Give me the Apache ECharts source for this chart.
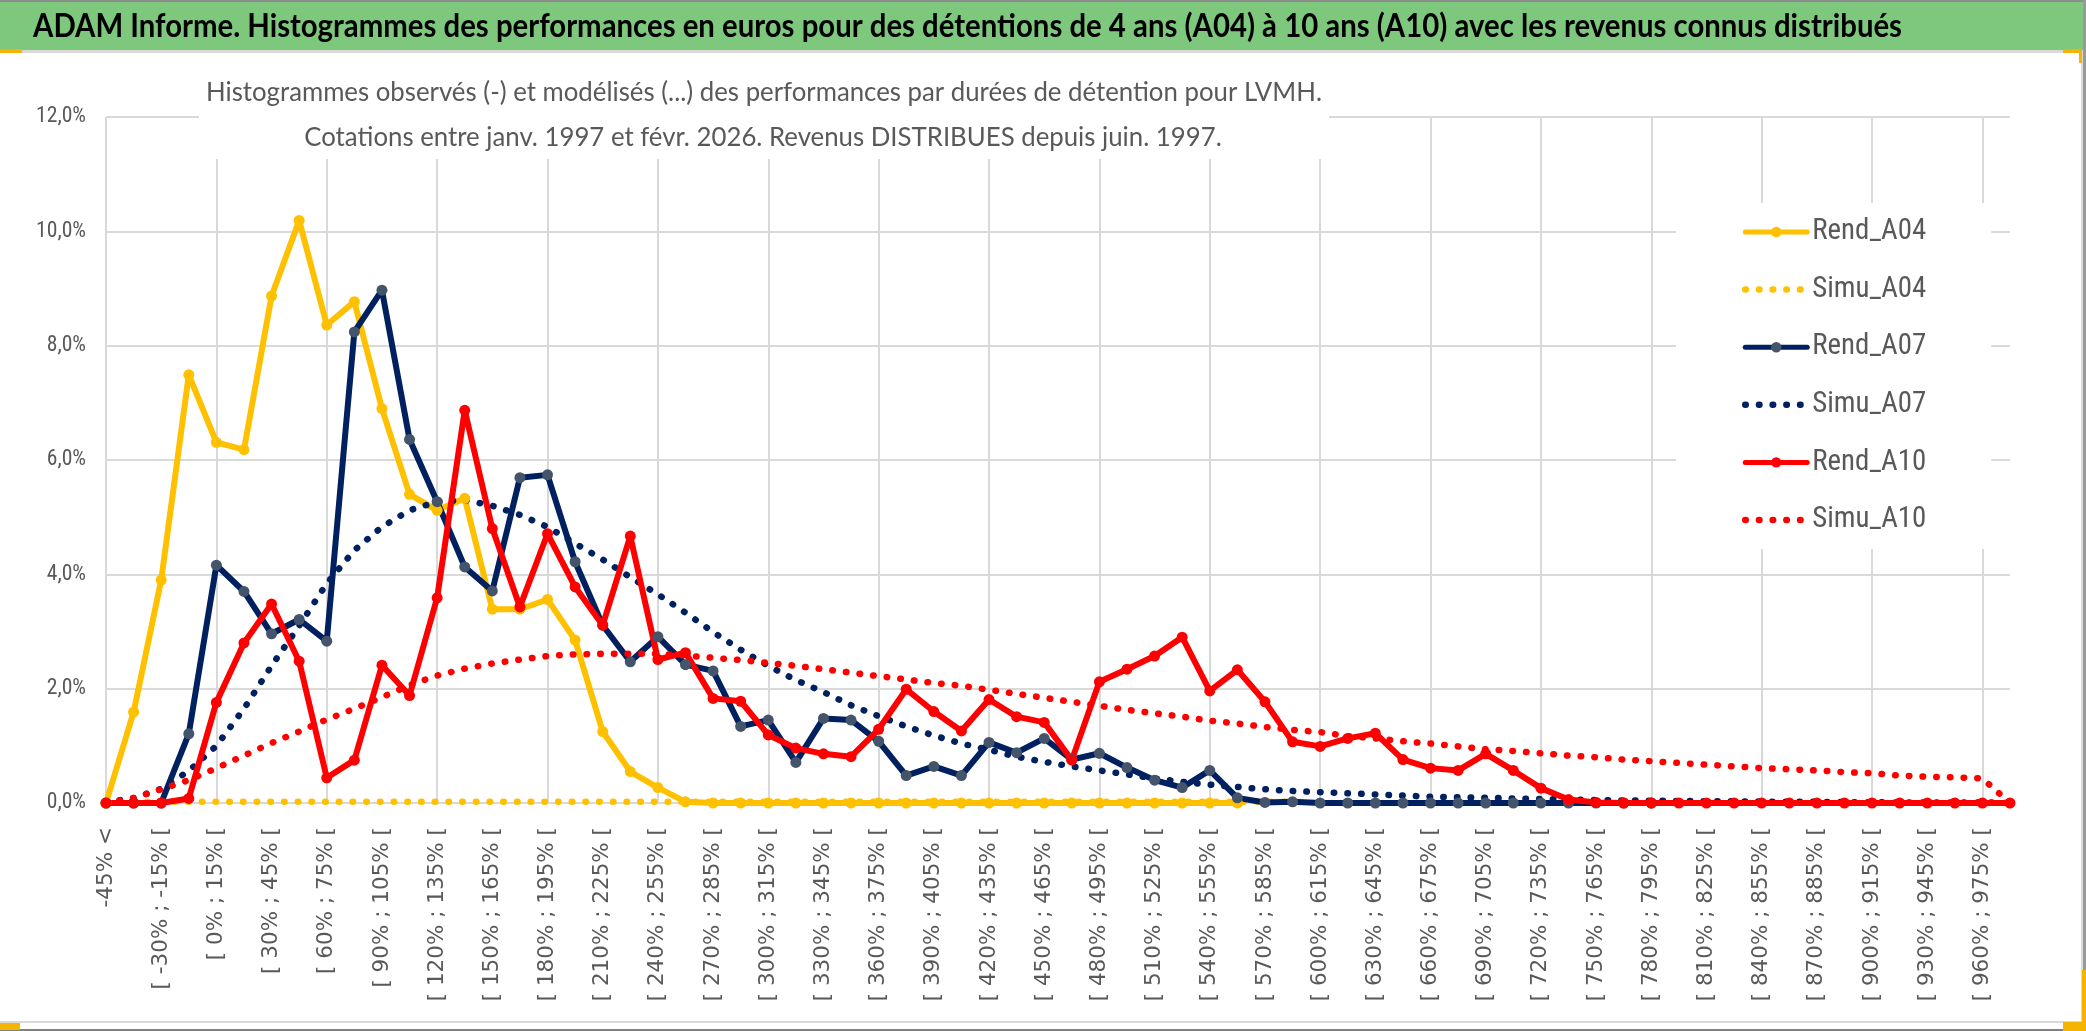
<!DOCTYPE html>
<html>
<head>
<meta charset="utf-8">
<script src="https://cdn.jsdelivr.net/npm/echarts@6/dist/echarts.min.js"></script>
<style>
html,body{margin:0;padding:0;background:#fff;}
#chart{width:2086px;height:1031px;}
</style>
</head>
<body>
<div id="chart"></div>
<script>
// ---------- DATA ----------
const titleText = "ADAM Informe. Histogrammes des performances en euros pour des détentions de 4 ans (A04) à 10 ans (A10) avec les revenus connus distribués";
const subtitleLine1 = "Histogrammes observés (-) et modélisés (...) des performances par durées de détention pour LVMH.";
const subtitleLine2 = "Cotations entre janv. 1997 et févr. 2026. Revenus DISTRIBUES depuis juin. 1997.";

const categories = [
"-45% <",
"[ -45% ; -30% [", "[ -30% ; -15% [", "[ -15% ; 0% [", "[ 0% ; 15% [", "[ 15% ; 30% [", "[ 30% ; 45% [", "[ 45% ; 60% [", "[ 60% ; 75% [", "[ 75% ; 90% [", "[ 90% ; 105% [",
"[ 105% ; 120% [", "[ 120% ; 135% [", "[ 135% ; 150% [", "[ 150% ; 165% [", "[ 165% ; 180% [", "[ 180% ; 195% [", "[ 195% ; 210% [", "[ 210% ; 225% [", "[ 225% ; 240% [", "[ 240% ; 255% [",
"[ 255% ; 270% [", "[ 270% ; 285% [", "[ 285% ; 300% [", "[ 300% ; 315% [", "[ 315% ; 330% [", "[ 330% ; 345% [", "[ 345% ; 360% [", "[ 360% ; 375% [", "[ 375% ; 390% [", "[ 390% ; 405% [",
"[ 405% ; 420% [", "[ 420% ; 435% [", "[ 435% ; 450% [", "[ 450% ; 465% [", "[ 465% ; 480% [", "[ 480% ; 495% [", "[ 495% ; 510% [", "[ 510% ; 525% [", "[ 525% ; 540% [", "[ 540% ; 555% [",
"[ 555% ; 570% [", "[ 570% ; 585% [", "[ 585% ; 600% [", "[ 600% ; 615% [", "[ 615% ; 630% [", "[ 630% ; 645% [", "[ 645% ; 660% [", "[ 660% ; 675% [", "[ 675% ; 690% [", "[ 690% ; 705% [",
"[ 705% ; 720% [", "[ 720% ; 735% [", "[ 735% ; 750% [", "[ 750% ; 765% [", "[ 765% ; 780% [", "[ 780% ; 795% [", "[ 795% ; 810% [", "[ 810% ; 825% [", "[ 825% ; 840% [", "[ 840% ; 855% [",
"[ 855% ; 870% [", "[ 870% ; 885% [", "[ 885% ; 900% [", "[ 900% ; 915% [", "[ 915% ; 930% [", "[ 930% ; 945% [", "[ 945% ; 960% [", "[ 960% ; 975% [",
"> 975%"
];

const yTicks = [0, 2, 4, 6, 8, 10, 12];

// values in %
const rendA04 = [
0, 1.59, 3.90, 7.49, 6.31, 6.18, 8.87, 10.19, 8.36, 8.77,
6.90, 5.40, 5.12, 5.33, 3.39, 3.39, 3.56, 2.85, 1.25, 0.55,
0.27, 0.02, 0, 0, 0, 0, 0, 0, 0, 0,
0, 0, 0, 0, 0, 0, 0, 0, 0, 0,
0, 0, null, null, null, null, null, null, null, null,
null, null, null, null, null, null, null, null, null, null,
null, null, null, null, null, null, null, null, null, null
];
const simuA04 = [
0.02, 0.02, 0.02, 0.02, 0.02, 0.02, 0.02, 0.02, 0.02, 0.02,
0.02, 0.02, 0.02, 0.02, 0.02, 0.02, 0.02, 0.02, 0.02, 0.02,
0.02, 0.02, 0.02, 0.02, 0.02, 0.02, 0.02, 0.02, 0.02, 0.02,
0.02, 0.02, 0.02, 0.02, 0.02, 0.02, 0.02, 0.02, 0.02, 0.02,
0.02, 0.02, 0.02, 0.02, null, null, null, null, null, null,
null, null, null, null, null, null, null, null, null, null,
null, null, null, null, null, null, null, null, null, null
];
const rendA07 = [
0, 0, 0, 1.21, 4.16, 3.70, 2.96, 3.21, 2.83, 8.24,
8.97, 6.36, 5.27, 4.13, 3.71, 5.69, 5.74, 4.22, 3.11, 2.47,
2.91, 2.42, 2.31, 1.34, 1.45, 0.71, 1.48, 1.45, 1.08, 0.48,
0.64, 0.48, 1.06, 0.88, 1.13, 0.76, 0.87, 0.62, 0.40, 0.27,
0.57, 0.09, 0.01, 0.02, 0, 0, 0, 0, 0, 0,
0, 0, 0, 0, 0, 0, 0, null, null, null,
null, null, null, null, null, null, null, null, null, null
];
const simuA07 = [
0.02, 0.08, 0.25, 0.56, 1.00, 1.65, 2.40, 3.10, 3.84, 4.42,
4.83, 5.12, 5.27, 5.30, 5.20, 5.04, 4.83, 4.54, 4.26, 3.95,
3.65, 3.33, 2.99, 2.68, 2.40, 2.15, 1.94, 1.71, 1.52, 1.34,
1.18, 1.04, 0.93, 0.81, 0.72, 0.64, 0.57, 0.50, 0.43, 0.37,
0.32, 0.28, 0.24, 0.21, 0.19, 0.17, 0.15, 0.13, 0.11, 0.10,
0.09, 0.08, 0.07, 0.06, 0.05, 0.045, 0.04, 0.035, 0.03, 0.03,
0.025, 0.02, 0.02, 0.015, 0.015, 0.01, 0.01, 0.01, 0.01, 0
];
const rendA10 = [
0, 0, 0, 0.08, 1.76, 2.80, 3.48, 2.48, 0.44, 0.75,
2.41, 1.88, 3.59, 6.87, 4.80, 3.43, 4.71, 3.78, 3.11, 4.67,
2.51, 2.63, 1.83, 1.78, 1.19, 0.96, 0.86, 0.81, 1.29, 1.99,
1.60, 1.26, 1.81, 1.51, 1.41, 0.75, 2.12, 2.34, 2.57, 2.90,
1.96, 2.33, 1.77, 1.07, 0.99, 1.13, 1.22, 0.76, 0.61, 0.57,
0.86, 0.57, 0.26, 0.06, 0.01, 0, 0, 0, 0, 0,
0, 0, 0, 0, 0, 0, 0, 0, 0, 0
];
const simuA10 = [
0, 0.09, 0.24, 0.40, 0.61, 0.83, 1.05, 1.25, 1.46, 1.65,
1.85, 2.06, 2.23, 2.35, 2.44, 2.51, 2.57, 2.60, 2.61, 2.61,
2.61, 2.58, 2.54, 2.50, 2.45, 2.40, 2.34, 2.28, 2.22, 2.16,
2.10, 2.05, 1.98, 1.91, 1.84, 1.77, 1.70, 1.63, 1.57, 1.51,
1.44, 1.39, 1.33, 1.28, 1.24, 1.17, 1.13, 1.08, 1.04, 0.99,
0.94, 0.91, 0.87, 0.83, 0.80, 0.76, 0.73, 0.70, 0.67, 0.64,
0.61, 0.59, 0.57, 0.54, 0.52, 0.48, 0.46, 0.45, 0.43, 0
];

// ---------- STYLE ----------
const GRAY = '#595959';
const GRID = '#d9d9d9';
const C_A04 = '#ffc000', C_A07 = '#002060', M_A07 = '#44546a', C_A10 = '#ff0000';

const mctx = document.createElement('canvas').getContext('2d');
function textWidth(text, weight, size, family) {
  mctx.font = weight + ' ' + size + 'px ' + family;
  return mctx.measureText(text).width;
}
function hasFont(name) {
  const s = 'abcdefghijklmnopqrstuvwxyzABCDEFGHIJ0123456789%_';
  for (const fb of ['monospace', 'serif']) {
    if (textWidth(s, 'normal', 72, fb) !== textWidth(s, 'normal', 72, "'" + name + "', " + fb)) return true;
  }
  return false;
}
const narrowCandidates = ['Liberation Sans Narrow', 'Roboto Condensed', 'Noto Sans Condensed', 'Open Sans Condensed', 'Arial Narrow'];
let NARROW = null;
for (const f of narrowCandidates) { if (hasFont(f)) { NARROW = "'" + f + "'"; break; } }
if (!NARROW) NARROW = "Roboto";
const NARROW_STACK = NARROW + ", Roboto, 'Liberation Sans', sans-serif";

// Title / subtitle: Lato scaled horizontally to match condensed look
const TFONT = "Lato, 'Open Sans', sans-serif";
const titleSize = 31.5;
const titleScale = 1869 / textWidth(titleText, 'bold', titleSize, TFONT);
const subSize = 27.5;
const subScale = 1116 / textWidth(subtitleLine1, 'normal', subSize, TFONT);

const legendSize = +(29 * 114 / textWidth('Rend_A04', 'normal', 29, NARROW_STACK)).toFixed(2);
const yLabSize = +(20 * 50 / textWidth('12,0%', 'normal', 20, NARROW_STACK)).toFixed(2);

const chart = echarts.init(document.getElementById('chart'), null, {renderer: 'canvas'});

function rend(name, data, lineColor, markColor) {
  return {
    name, type: 'line', data,
    symbol: 'circle', symbolSize: 11, showSymbol: true,
    connectNulls: false,
    lineStyle: {color: lineColor, width: 6, cap: 'round', join: 'round'},
    itemStyle: {color: markColor, borderWidth: 0},
    emphasis: {disabled: true},
    animation: false
  };
}
function simu(name, data, color) {
  return {
    name, type: 'line', data,
    symbol: 'none', showSymbol: false,
    lineStyle: {color, width: 6.5, type: [0.5, 13.2], cap: 'round', join: 'round'},
    itemStyle: {color},
    emphasis: {disabled: true},
    animation: false
  };
}

const legendNames = ['Rend_A04', 'Simu_A04', 'Rend_A07', 'Simu_A07', 'Rend_A10', 'Simu_A10'];

const option = {
  backgroundColor: '#ffffff',
  animation: false,
  grid: {left: 106, right: 76, top: 117, bottom: 228, containLabel: false},
  legend: {
    orient: 'vertical',
    left: 1676, top: 203,
    padding: [12, 65, 12, 66],
    backgroundColor: '#ffffff',
    itemWidth: 62, itemHeight: 13, itemGap: 23.6,
    textStyle: {fontFamily: NARROW_STACK, fontSize: legendSize, color: GRAY, lineHeight: 34, padding: [0, 0, 0, 0]},
    data: legendNames.map(n => n.startsWith('Rend')
      ? {name: n, lineStyle: {width: 5}}
      : {name: n, lineStyle: {width: 6.5}, itemStyle: {opacity: 0}}),
    selectedMode: false
  },
  xAxis: {
    type: 'category', data: categories, boundaryGap: false,
    axisLine: {show: true, lineStyle: {color: GRID, width: 2}},
    axisTick: {show: false},
    axisLabel: {
      interval: 1, rotate: 90, margin: 24,
      fontFamily: "'DejaVu Sans', Verdana, sans-serif", fontSize: 21.5, color: GRAY
    },
    splitLine: {show: true, interval: 3, lineStyle: {color: GRID, width: 2}}
  },
  yAxis: {
    type: 'value', min: yTicks[0], max: yTicks[yTicks.length - 1], interval: 2,
    axisLine: {show: false}, axisTick: {show: false},
    axisLabel: {
      margin: 20, fontFamily: NARROW_STACK, fontSize: yLabSize, color: GRAY,
      formatter: v => v.toFixed(1).replace('.', ',') + '%'
    },
    splitLine: {show: true, lineStyle: {color: GRID, width: 2}}
  },
  series: [
    rend('Rend_A04', rendA04, C_A04, C_A04),
    simu('Simu_A04', simuA04, C_A04),
    rend('Rend_A07', rendA07, C_A07, M_A07),
    simu('Simu_A07', simuA07, C_A07),
    rend('Rend_A10', rendA10, C_A10, C_A10),
    simu('Simu_A10', simuA10, C_A10)
  ],
  graphic: [
    // title bar
    {type: 'rect', left: 0, top: 0, shape: {width: 2086, height: 50}, style: {fill: '#7ec87e'}, z: 100},
    {type: 'rect', left: 0, top: 50, shape: {width: 2083, height: 3}, style: {fill: '#d9d9d9'}, z: 100},
    {type: 'text', x: 33, y: 27, scaleX: titleScale, z: 101,
      style: {text: titleText, font: 'bold ' + titleSize + 'px ' + TFONT, fill: '#000000', verticalAlign: 'middle', align: 'left'}},
    // subtitle box
    {type: 'rect', left: 199, top: 62, shape: {width: 1130, height: 97}, style: {fill: '#ffffff'}, z: 100},
    {type: 'text', x: 764, y: 92, scaleX: subScale, z: 101,
      style: {text: subtitleLine1, font: subSize + 'px ' + TFONT, fill: GRAY, align: 'center', verticalAlign: 'middle'}},
    {type: 'text', x: 763, y: 137, scaleX: subScale, z: 101,
      style: {text: subtitleLine2, font: subSize + 'px ' + TFONT, fill: GRAY, align: 'center', verticalAlign: 'middle'}},
    // frame
    {type: 'rect', left: 0, top: 0, shape: {width: 2086, height: 2}, style: {fill: '#8c8c8c'}, z: 102},
    {type: 'rect', left: 0, top: 1021, shape: {width: 2083, height: 2}, style: {fill: '#d9d9d9'}, z: 102},
    {type: 'rect', left: 0, top: 1029, shape: {width: 2086, height: 2}, style: {fill: '#7f7f7f'}, z: 102},
    {type: 'rect', left: 2081, top: 50, shape: {width: 2, height: 973}, style: {fill: '#d9d9d9'}, z: 102},
    {type: 'rect', left: 2083, top: 0, shape: {width: 3, height: 1031}, style: {fill: '#9a9a9a'}, z: 102},
    // selection handles
    {type: 'rect', left: 0, top: 49, shape: {width: 22, height: 4}, style: {fill: '#f4b400'}, z: 103},
    {type: 'rect', left: 2063, top: 49, shape: {width: 19, height: 4}, style: {fill: '#f4b400'}, z: 103},
    {type: 'rect', left: 2079, top: 49, shape: {width: 3, height: 14}, style: {fill: '#f4b400'}, z: 103},
    {type: 'rect', left: 0, top: 1023, shape: {width: 20, height: 7}, style: {fill: '#f4b400'}, z: 103},
    {type: 'rect', left: 2063, top: 1022, shape: {width: 23, height: 9}, style: {fill: '#f4b400'}, z: 103},
    {type: 'rect', left: 2082, top: 970, shape: {width: 4, height: 61}, style: {fill: '#f4b400'}, z: 103}
  ]
};
chart.setOption(option);
</script>
</body>
</html>
